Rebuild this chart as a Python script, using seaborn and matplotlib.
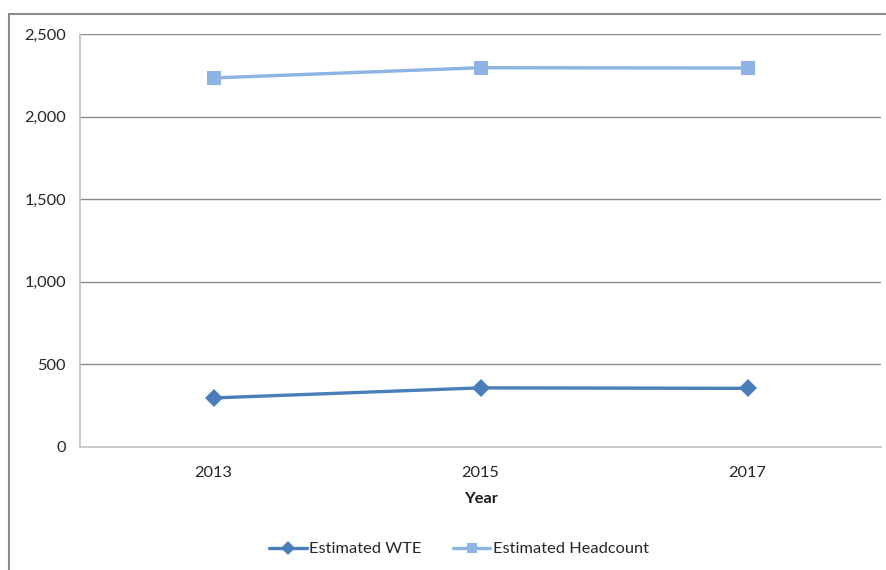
import matplotlib
matplotlib.use("Agg")
import matplotlib.pyplot as plt
import seaborn as sns
import pandas as pd
from matplotlib.patches import Rectangle
from matplotlib.ticker import FuncFormatter, FixedLocator

years = ["2013", "2015", "2017"]
wte = [297, 358, 355]
headcount = [2234, 2296, 2294]
series_names = ["Estimated WTE", "Estimated Headcount"]
y_ticks = [0, 500, 1000, 1500, 2000, 2500]

df = pd.DataFrame({
    "Year": years * 2,
    "Value": wte + headcount,
    "Series": [series_names[0]] * 3 + [series_names[1]] * 3,
})

sns.set_theme(style="white")
plt.rcParams["font.family"] = ["Lato", "DejaVu Sans"]

fig = plt.figure(figsize=(8.87, 5.70), dpi=100)
ax = fig.add_axes([80/887, 1-447/570, (881-80)/887, (447-34)/570])

palette = {series_names[0]: "#4a7ebb", series_names[1]: "#8eb4e3"}
sns.lineplot(data=df, x="Year", y="Value", hue="Series", style="Series",
             markers={series_names[0]: "D", series_names[1]: "s"},
             dashes=False, palette=palette, linewidth=2.4, markersize=9.5,
             markeredgewidth=0, ax=ax, legend=True, sort=False)

ax.set_xlim(-0.5, 2.5)
ax.set_ylim(0, 2500)
ax.set_yticks(y_ticks)
ax.yaxis.set_major_formatter(FuncFormatter(lambda v, p: f"{int(v):,}"))
ax.grid(axis="y", color="#8a8a8a", linewidth=1.0)
ax.set_axisbelow(True)
for s in ["top", "right"]:
    ax.spines[s].set_visible(False)
ax.spines["left"].set_color("#c0c0c0")
ax.spines["bottom"].set_color("#c0c0c0")
ax.spines["left"].set_linewidth(1.2)
ax.spines["bottom"].set_linewidth(1.2)

fs = 11.8
ax.tick_params(axis="y", which="major", length=5, color="#8a8a8a", width=1.0,
               labelsize=fs, labelcolor="#262626", pad=5)
ax.tick_params(axis="x", which="major", length=0, labelsize=fs,
               labelcolor="#262626", pad=14)
ax.xaxis.set_minor_locator(FixedLocator([-0.5, 0.5, 1.5]))
ax.tick_params(axis="x", which="minor", length=6, color="#a0a0a0", width=1.0)

ax.set_xlabel("Year", fontsize=fs, fontweight="bold", color="#1a1a1a", labelpad=8)
ax.set_ylabel("")

handles, labels = ax.get_legend_handles_labels()
ax.get_legend().remove()
fig.legend(handles, labels, loc="center", bbox_to_anchor=(459/887, 1-549/570),
           ncol=2, frameon=False, fontsize=fs, handlelength=2.3,
           columnspacing=1.9, handletextpad=0.15, markerscale=0.7)

fig.patches.append(Rectangle((9/887, -0.05), 1.0, 1-14/570+0.05,
                             transform=fig.transFigure, fill=False,
                             edgecolor="#8a8a8a", linewidth=1.5))

fig.savefig("out.png", dpi=100)
